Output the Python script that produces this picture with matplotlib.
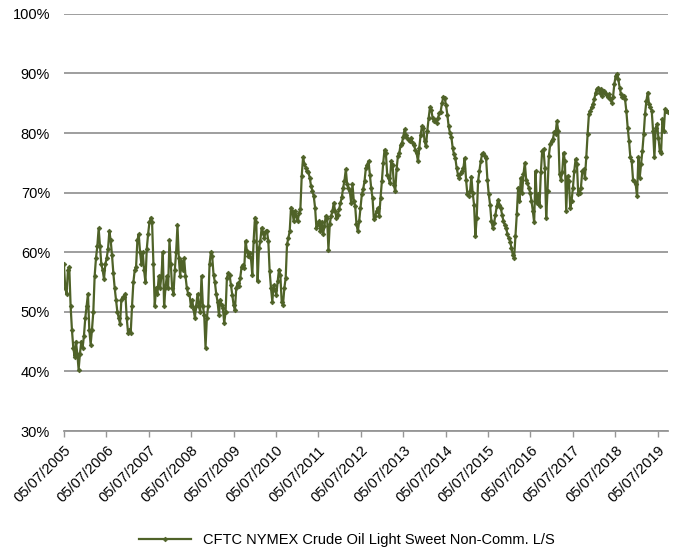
import pandas as pd
import numpy as np
import matplotlib
matplotlib.use("Agg")
import matplotlib.pyplot as plt
import matplotlib.dates as mdates
from matplotlib.ticker import FuncFormatter

plt.rcParams['font.family'] = ['Liberation Sans', 'DejaVu Sans']

# CFTC NYMEX crude oil light sweet, non-commercial long / (long + short), in %
# values, evenly spaced from Jul 2005 to Oct 2019
net_long = [
    # 2005 - early 2009
    58.0, 54.0, 53.0, 57.0, 57.5, 51.0, 47.0, 44.0, 42.5, 45.0, 43.0, 40.3, 43.0, 45.0, 44.0, 46.0,
    49.0, 51.0, 53.0, 47.0, 44.5, 47.0, 50.0, 56.0, 59.0, 61.0, 64.0, 61.0, 58.0, 57.0, 55.5, 58.0,
    59.0, 60.5, 63.5, 62.0, 59.5, 56.5, 54.0, 52.0, 50.0, 49.0, 48.0, 52.0, 52.5, 52.5, 53.0, 49.0,
    46.5, 47.0, 46.5, 51.0, 55.0, 57.0, 57.5, 62.0, 63.0, 60.0, 58.0, 60.0, 57.0, 55.0, 60.5, 63.0,
    65.0, 65.8, 65.0, 58.0, 51.0, 54.0, 53.0, 56.0, 54.0, 56.0, 60.0, 51.0, 54.0, 56.0, 54.0, 62.0,
    58.0, 54.0, 53.0, 57.0, 60.0, 64.5, 59.0, 56.0, 58.5, 57.0, 59.0, 56.0, 54.0, 53.0, 53.0, 51.0,
    52.0, 50.5, 49.0, 51.0, 53.0, 51.0, 50.0, 56.0, 51.0, 49.5, 44.0, 49.0, 51.0,
    # 2009 - mid 2012
    58.0, 60.0, 59.3, 56.2, 55.0, 53.0, 51.7, 49.5, 52.0, 51.2, 50.6, 48.1, 50.0, 55.7, 56.5, 56.2,
    54.5, 52.9, 51.2, 50.3, 54.0, 54.8, 54.3, 55.7, 57.6, 57.9, 57.4, 61.9, 60.2, 59.3, 59.9, 59.0,
    56.2, 61.9, 65.8, 65.0, 55.1, 60.7, 61.9, 64.1, 63.3, 62.4, 63.5, 63.5, 61.9, 56.8, 54.0, 51.7,
    54.5, 53.7, 52.9, 55.1, 57.1, 56.2, 51.7, 51.2, 54.0, 55.7, 61.3, 62.4, 63.5, 67.5, 66.9, 65.2,
    66.9, 66.1, 65.2, 66.6, 67.2, 72.8, 75.9, 74.8, 74.2, 73.7, 73.4, 72.5, 71.1, 70.3, 69.4, 67.5,
    64.1, 64.7, 65.2, 63.5, 65.0, 63.0, 64.4, 66.1, 65.8, 60.4, 64.7, 66.1, 66.9, 68.3, 66.9, 65.8,
    66.3, 67.2, 68.3, 69.2, 70.8, 72.0, 73.9, 71.4, 70.8, 70.3, 68.3, 71.4, 68.6, 67.8, 64.7, 63.5,
    65.2, 67.5, 69.7, 70.6,
    # mid 2012 - early 2016
    71.9, 74.1, 74.7, 75.3, 73.0, 70.8, 69.1, 65.5, 66.0, 66.9, 67.4, 66.0, 69.1, 71.9, 75.0, 77.2,
    76.6, 73.0, 72.5, 71.6, 75.3, 74.7, 71.3, 70.2, 73.9, 76.1, 76.6, 78.0, 78.3, 79.4, 80.6, 79.7,
    79.2, 78.9, 78.6, 79.2, 78.3, 78.0, 77.2, 76.6, 75.3, 77.5, 79.7, 81.1, 80.8, 78.6, 77.8, 80.3,
    82.5, 84.3, 83.9, 82.5, 82.0, 82.2, 81.7, 82.5, 83.4, 83.6, 85.0, 86.1, 85.9, 84.7, 83.1, 81.1,
    80.0, 79.4, 77.5, 76.4, 75.8, 74.1, 73.0, 72.5, 73.3, 73.6, 74.1, 75.8, 72.2, 69.7, 69.4, 70.2,
    72.7, 69.9, 68.0, 62.7, 65.8, 71.9, 73.6, 75.3, 76.4, 76.6, 76.1, 75.8, 72.2, 69.7, 68.0, 65.2,
    64.1, 64.9, 66.3, 67.7, 68.8, 68.0, 67.4, 66.3, 65.2, 64.6, 64.1, 63.0, 62.4, 61.8, 60.7, 59.6,
    # 2016 - 2019
    59.1, 62.7, 66.4, 70.8, 68.6, 72.5, 70.0, 73.1, 75.0, 72.2, 71.7, 70.8, 70.0, 68.6, 66.9, 65.0,
    73.6, 68.3, 69.7, 67.8, 73.4, 77.0, 77.3, 74.2, 65.8, 70.3, 76.2, 78.1, 78.7, 79.0, 80.1, 79.8,
    82.0, 80.4, 73.1, 72.2, 73.4, 76.7, 75.3, 66.9, 72.8, 72.0, 67.5, 68.6, 70.8, 73.6, 75.6, 74.8,
    69.7, 70.0, 70.8, 73.6, 73.9, 72.5, 75.9, 79.8, 83.2, 83.7, 84.3, 84.8, 85.7, 86.8, 87.4, 87.6,
    86.8, 87.4, 86.2, 87.1, 86.8, 86.5, 86.0, 86.5, 85.7, 85.1, 86.0, 88.2, 89.6, 89.9, 89.0, 87.6,
    86.5, 86.0, 86.2, 85.7, 83.7, 80.9, 78.7, 75.9, 75.3, 72.2, 72.0, 71.4, 69.4, 75.9, 72.5, 74.8,
    77.0, 79.8, 83.2, 85.4, 86.8, 84.8, 84.3, 83.7, 80.4, 75.9, 80.9, 81.5, 79.2, 77.0, 76.7, 82.3,
    80.4, 84.0, 83.7, 83.6,
]
dates = pd.date_range('2005-07-05', '2019-10-01', periods=len(net_long))
tick_dates = pd.date_range('2005-07-05', '2019-07-05', freq=pd.DateOffset(years=1))
series_label = 'CFTC NYMEX Crude Oil Light Sweet Non-Comm. L/S'

line_color = '#4F6228'
grid_color = '#969696'

fig = plt.figure(figsize=(6.8, 5.54), dpi=100)
ax = fig.add_axes([0.094, 0.222, 0.888, 0.753])

ax.plot(dates, net_long, color=line_color, linewidth=1.6, marker='D', markersize=2.4,
        markeredgewidth=0.5, label=series_label)

ax.set_ylim(30, 100)
ax.set_yticks(np.arange(30, 101, 10))
ax.yaxis.set_major_formatter(FuncFormatter(lambda v, p: f'{v:.0f}%'))
ax.yaxis.grid(True, color=grid_color, linewidth=1.3)
ax.set_axisbelow(True)
ax.tick_params(axis='y', length=0, pad=10, labelsize=10.5)

ax.set_xlim(dates[0], dates[-1])
ax.set_xticks(tick_dates)
ax.xaxis.set_major_formatter(mdates.DateFormatter('%d/%m/%Y'))
ax.tick_params(axis='x', length=4, width=1, color=grid_color, labelsize=10.5, pad=5)
for lbl in ax.get_xticklabels():
    lbl.set_rotation(45)
    lbl.set_ha('right')
    lbl.set_va('top')
    lbl.set_rotation_mode('anchor')

for s in ['left', 'right', 'top']:
    ax.spines[s].set_visible(False)
ax.spines['bottom'].set_color(grid_color)
ax.spines['bottom'].set_linewidth(1.3)

fig.legend(loc='center', bbox_to_anchor=(0.51, 1 - 540 / 554), frameon=False,
           fontsize=10.5, handlelength=3.6)

fig.savefig('out.png', dpi=100)
